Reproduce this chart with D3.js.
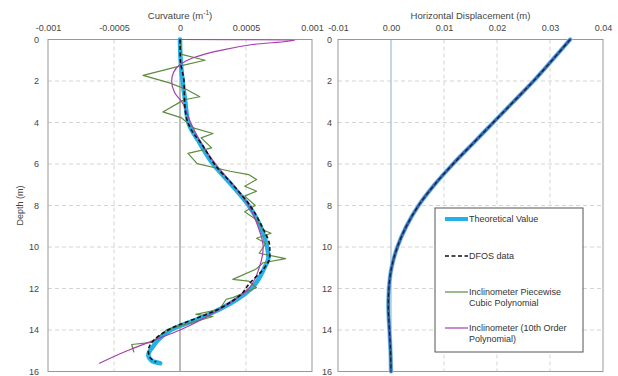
<!DOCTYPE html>
<html>
<head>
<meta charset="utf-8">
<script src="https://cdn.jsdelivr.net/npm/d3@7"></script>
<style>
  body { margin: 0; background: #fff; }
  svg { font-family: "Liberation Sans", Arial, sans-serif; }
</style>
</head>
<body>
<svg id="chart" width="618" height="376"></svg>
<script>
// depth ticks shared by both panels
const depthTicks = [0, 2, 4, 6, 8, 10, 12, 14, 16];

// curvature panel
const curvTicks = [-0.001, -0.0005, 0, 0.0005, 0.001];
const curvTickLabels = ["-0.001", "-0.0005", "0", "0.0005", "0.001"];

const theoDepth = [0, 1, 2, 3, 4, 5, 6, 7, 8, 9, 10, 10.5, 11, 12, 13, 13.5, 14, 14.5, 14.8, 15.2, 15.5, 15.6];
const theoCurv = [0, 0.000005, 0.00002, 0.00004, 0.000063, 0.00015, 0.00025, 0.00039, 0.00052, 0.00061, 0.00066, 0.00067, 0.00064, 0.00054, 0.0003, 0.000126, -0.00007, -0.00017, -0.000205, -0.00024, -0.00021, -0.00015];

const dfosDepth = [0, 1, 2, 3, 3.8, 4.5, 5, 5.5, 6, 7, 8, 9, 10, 10.5, 11, 11.8, 12.3, 13, 14, 14.5, 15, 15.3, 15.55];
const dfosCurv = [0, 0.000003, 0.00003, 0.000035, 0.00005, 0.0001, 0.00016, 0.00021, 0.00026, 0.0004, 0.00053, 0.00062, 0.00068, 0.00068, 0.00064, 0.00052, 0.00046, 0.00029, -0.00009, -0.0002, -0.00024, -0.00023, -0.00018];

const greenDepth = [0, 0.72, 1.0, 1.25, 1.73, 2.09, 2.41, 2.76, 2.89, 2.97, 3.49, 3.78, 4.26, 4.53, 4.74, 5.22, 5.49, 5.98, 6.35, 6.51, 6.75, 7.07, 7.31, 7.55, 8.0, 8.3, 8.7, 9.18, 9.34, 9.58, 9.82, 10.3, 10.56, 10.76, 11.05, 11.56, 11.64, 11.96, 12.44, 12.52, 13.0, 13.25, 13.35, 13.98, 14.6, 14.7, 15.06];
const greenCurv = [0, 0.000013, 0.00019, 0.00002, -0.00028, -0.00008, 0.00005, 0.00015, 0.00004, 0.000013, -0.00013, 0.000013, 0.0001, 0.00025, 0.00016, 0.00024, 0.00006, 0.00013, 0.00038, 0.00052, 0.00058, 0.00049, 0.00058, 0.00049, 0.00057, 0.00049, 0.00058, 0.00063, 0.00069, 0.00058, 0.00065, 0.0006, 0.0008, 0.00063, 0.00058, 0.0004, 0.00052, 0.00058, 0.0004, 0.00035, 0.0003, 0.00012, 0.00025, -0.0001, -0.000215, -0.000366, -0.00035];

const polyDepth = [0, 0.02, 0.24, 0.56, 0.88, 1.2, 1.6, 2.0, 2.57, 3, 4, 5, 6, 7, 8, 9, 10, 11, 12, 13, 14, 14.5, 15, 15.6];
const polyCurv = [0, 0.00087, 0.00055, 0.00028, 0.0001, 0, -0.00005, -0.000063, -0.00004, 0.000013, 0.00008, 0.00016, 0.00027, 0.0004, 0.00052, 0.00059, 0.00063, 0.0006, 0.00052, 0.0003, 0.0, -0.0002, -0.0004, -0.00061];

// displacement panel
const dispTicks = [-0.01, 0, 0.01, 0.02, 0.03, 0.04];
const dispTickLabels = ["-0.01", "0.00", "0.01", "0.02", "0.03", "0.04"];
const dispDepth = [0, 1, 2, 3, 4, 5, 6, 7, 8, 9, 10, 11, 12, 13, 14, 15, 16];
const dispTheo = [0.0338, 0.0304, 0.0269, 0.0231, 0.0193, 0.0155, 0.0117, 0.0082, 0.0052, 0.0029, 0.0012, 0.0001, -0.0004, -0.0005, -0.0003, -0.0001, 0.0];

const legendNames = [["Theoretical Value"], ["DFOS data"], ["Inclinometer Piecewise", "Cubic Polynomial"], ["Inclinometer (10th Order", "Polynomial)"]];

const CYAN = "#25b0e6", GREEN = "#5e8b40", MAGENTA = "#a63fae";

const svg = d3.select("#chart");
const plotTop = 39.5, plotBottom = 371.5;
const y = d3.scaleLinear().domain([0, 16]).range([plotTop, plotBottom]);
const xL = d3.scaleLinear().domain([-0.001, 0.001]).range([48, 312]);
const xR = d3.scaleLinear().domain([-0.01, 0.04]).range([338, 603]);

function panel(x, xTicks, xLabels, gridX, zeroColor, title, labelPad) {
  const g = svg.append("g");
  const [x0, x1] = x.range();
  // dashed grid
  g.selectAll(".hg").data(depthTicks.slice(1, -1)).join("line")
    .attr("x1", x0).attr("x2", x1)
    .attr("y1", d => y(d)).attr("y2", d => y(d))
    .attr("stroke", "#d4d4d4").attr("stroke-dasharray", "4,3");
  g.selectAll(".vg").data(gridX).join("line")
    .attr("x1", d => x(d)).attr("x2", d => x(d))
    .attr("y1", plotTop).attr("y2", plotBottom)
    .attr("stroke", "#d4d4d4").attr("stroke-dasharray", "4,3");
  g.append("line")
    .attr("x1", x(0)).attr("x2", x(0)).attr("y1", plotTop).attr("y2", plotBottom)
    .attr("stroke", zeroColor).attr("stroke-width", 1.2);
  g.append("rect")
    .attr("x", x0).attr("y", plotTop).attr("width", x1 - x0).attr("height", plotBottom - plotTop)
    .attr("fill", "none").attr("stroke", "#999");

  const ax = g.append("g").attr("transform", `translate(0,${plotTop})`)
    .call(d3.axisTop(x).tickValues(xTicks).tickSize(0).tickPadding(8.5)
      .tickFormat((d, i) => xLabels[i]));
  ax.select(".domain").remove();
  ax.selectAll("text").attr("font-size", 9).attr("fill", "#444");

  const ay = g.append("g").attr("transform", `translate(${x0},0)`)
    .call(d3.axisLeft(y).tickValues(depthTicks).tickSize(0).tickPadding(labelPad));
  ay.select(".domain").remove();
  ay.selectAll("text").attr("font-size", 9).attr("fill", "#444");

  g.append("text").attr("x", (x0 + x1) / 2).attr("y", 18.5)
    .attr("text-anchor", "middle").attr("font-size", 9.5).attr("fill", "#444")
    .call(title);
  return g;
}

const left = panel(xL, curvTicks, curvTickLabels, [-0.0005, 0.0005], "#8c8c8c", t => {
  t.append("tspan").text("Curvature  (m");
  t.append("tspan").attr("dy", -3.5).attr("font-size", 6.5).text("-1");
  t.append("tspan").attr("dy", 3.5).text(")");
}, 9);

const right = panel(xR, dispTicks, dispTickLabels, [0.01, 0.02, 0.03], "#9fbad6",
  t => t.text("Horizontal Displacement (m)"), 6);

svg.append("text")
  .attr("transform", `translate(23,${(plotTop + plotBottom) / 2}) rotate(-90)`)
  .attr("text-anchor", "middle").attr("font-size", 9).attr("fill", "#444")
  .text("Depth (m)");

function curve(g, x, xs, ds, color, width, dash, interp) {
  const line = d3.line().x(d => x(d[0])).y(d => y(d[1])).curve(interp);
  g.append("path").datum(xs.map((v, i) => [v, ds[i]]))
    .attr("d", line).attr("fill", "none")
    .attr("stroke", color).attr("stroke-width", width)
    .attr("stroke-linecap", dash ? "butt" : "round")
    .attr("stroke-linejoin", "round")
    .attr("stroke-dasharray", dash);
}

curve(left, xL, theoCurv, theoDepth, CYAN, 4.5, null, d3.curveMonotoneY);
curve(left, xL, greenCurv, greenDepth, GREEN, 1.2, null, d3.curveLinear);
curve(left, xL, polyCurv, polyDepth, MAGENTA, 1.2, null, d3.curveMonotoneY);
curve(left, xL, dfosCurv, dfosDepth, "#111", 1.6, "4,2.5", d3.curveMonotoneY);

curve(right, xR, dispTheo, dispDepth, "#8fd0f0", 4.5, null, d3.curveCatmullRom);
curve(right, xR, dispTheo, dispDepth, "#3566b0", 3, null, d3.curveCatmullRom);
curve(right, xR, dispTheo, dispDepth, "#1a1a2a", 1.1, "4,2.5", d3.curveCatmullRom);

// legend
const lg = svg.append("g");
lg.append("rect").attr("x", 435).attr("y", 208).attr("width", 148).attr("height", 144)
  .attr("fill", "#fff").attr("stroke", "#555");
const legendStyle = [
  { color: CYAN, width: 4, dash: null },
  { color: "#111", width: 1.6, dash: "4,2.5" },
  { color: GREEN, width: 1.2, dash: null },
  { color: MAGENTA, width: 1.2, dash: null }
];
const legendY = [219, 256, 292, 328];
legendNames.forEach((lines, i) => {
  const s = legendStyle[i];
  lg.append("line").attr("x1", 445).attr("x2", 468)
    .attr("y1", legendY[i]).attr("y2", legendY[i])
    .attr("stroke", s.color).attr("stroke-width", s.width)
    .attr("stroke-dasharray", s.dash);
  const t = lg.append("text").attr("x", 469).attr("y", legendY[i] + 3.2)
    .attr("font-size", 9).attr("fill", "#333");
  lines.forEach((l, j) => t.append("tspan").attr("x", 469).attr("dy", j ? 11 : 0).text(l));
});
</script>
</body>
</html>
